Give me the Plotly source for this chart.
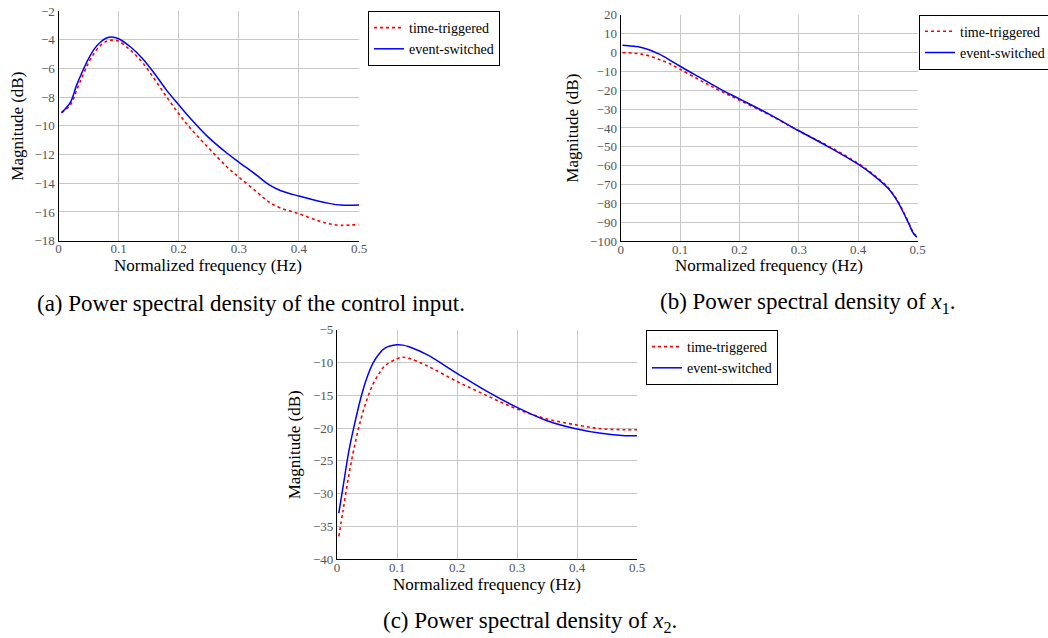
import plotly.graph_objects as go

# ---------------- data ----------------
# (a) control input PSD
freq_a = [0.005, 0.02, 0.03, 0.04, 0.05, 0.06, 0.07, 0.08, 0.088, 0.1, 0.12, 0.14, 0.16, 0.18,
          0.2, 0.22, 0.25, 0.28, 0.3, 0.33, 0.35, 0.37, 0.4, 0.43, 0.45, 0.47, 0.5]
tt_a = [-9.1, -8.53, -7.53, -6.53, -5.6, -4.9, -4.39, -4.11, -4.03, -4.11, -4.74, -5.6, -6.76, -7.99,
        -9.15, -10.2, -11.55, -12.85, -13.57, -14.61, -15.3, -15.73, -16.12, -16.58, -16.82, -16.93, -16.86]
es_a = [-9.08, -8.34, -7.18, -6.2, -5.32, -4.62, -4.16, -3.88, -3.81, -3.93, -4.51, -5.32, -6.37, -7.53,
        -8.53, -9.5, -10.82, -11.89, -12.52, -13.45, -14.1, -14.52, -14.89, -15.21, -15.4, -15.52, -15.52]

# (b) x1 PSD
freq_b = [0.003, 0.02, 0.035, 0.05, 0.065, 0.08, 0.1, 0.13, 0.15, 0.17, 0.2, 0.25, 0.3, 0.35, 0.4,
          0.425, 0.45, 0.465, 0.475, 0.485, 0.493, 0.499]
tt_b = [-0.1, -0.3, -0.9, -2.0, -3.8, -5.6, -8.9, -14.1, -17.5, -20.7, -25.3, -33.0, -41.5, -49.6,
        -58.8, -64.5, -71.4, -77.8, -83.6, -90.1, -95.5, -97.6]
es_b = [3.8, 3.3, 2.6, 1.2, -0.9, -3.5, -7.3, -12.7, -16.25, -19.8, -24.6, -32.7, -41.5, -50.0,
        -59.2, -64.9, -71.8, -78.2, -84.0, -90.5, -95.8, -97.9]

# (c) x2 PSD
freq_c = [0.003, 0.01, 0.02, 0.03, 0.04, 0.05, 0.06, 0.07, 0.08, 0.1, 0.11, 0.12, 0.15, 0.2, 0.25,
          0.3, 0.35, 0.4, 0.44, 0.48, 0.5]
tt_c = [-36.5, -32.6, -27.0, -22.4, -18.6, -15.6, -13.3, -11.7, -10.5, -9.42, -9.2, -9.37, -10.5,
        -12.9, -15.06, -17.09, -18.6, -19.53, -20.1, -20.25, -20.25]
es_c = [-32.95, -29.0, -23.4, -19.1, -15.3, -12.3, -10.1, -8.7, -7.8, -7.3, -7.35, -7.6, -8.8,
        -11.65, -14.4, -16.84, -18.87, -20.14, -20.8, -21.15, -21.15]

series_names = ["time-triggered", "event-switched"]
x_ticks = [0, 0.1, 0.2, 0.3, 0.4, 0.5]
x_tick_text = ["0", "0.1", "0.2", "0.3", "0.4", "0.5"]

captions = ["(a) Power spectral density of the control input.",
            "(b) Power spectral density of <i>x</i><sub>1</sub>.",
            "(c) Power spectral density of <i>x</i><sub>2</sub>."]
x_title = "Normalized frequency (Hz)"
y_title = "Magnitude (dB)"

# ---------------- layout helpers ----------------
W, H = 1048, 638
FONT = "Liberation Serif"


def fx(p):
    return p / W


def fy(p):
    return 1 - p / H


fig = go.Figure()

panels = [
    # freq, tt, es, xaxis id, yaxis id, legend id
    (freq_a, tt_a, es_a, "x", "y", "legend"),
    (freq_b, tt_b, es_b, "x2", "y2", "legend2"),
    (freq_c, tt_c, es_c, "x3", "y3", "legend3"),
]

for fr, tt, es, xa, ya, lg in panels:
    fig.add_trace(go.Scatter(x=fr, y=tt, mode="lines", name=series_names[0],
                             line=dict(color="#ff0000", width=1.6, dash="dot", shape="spline"),
                             xaxis=xa, yaxis=ya, legend=lg))
    fig.add_trace(go.Scatter(x=fr, y=es, mode="lines", name=series_names[1],
                             line=dict(color="#0000ff", width=1.5, shape="spline"),
                             xaxis=xa, yaxis=ya, legend=lg))

# plot area boxes (window pixels): left, right, top, bottom
boxes = [(58.5, 359.0, 11.0, 240.7),
         (620.7, 917.5, 14.7, 241.2),
         (337.0, 637.0, 329.7, 559.3)]
y_ranges = [(-18, -2, 2), (-100, 20, 10), (-40, -5, 5)]

axis_common = dict(showgrid=True, gridcolor="#c8c8c8", gridwidth=1,
                   showline=True, linecolor="#000000", linewidth=1.3,
                   ticks="", zeroline=False, automargin=False,
                   ticklabeloverflow="allow",
                   tickfont=dict(family=FONT, size=13, color="#555555"))

for i, ((l, r, t, b), (y0, y1, dy)) in enumerate(zip(boxes, y_ranges)):
    sfx = "" if i == 0 else str(i + 1)
    fig.update_layout(**{
        "xaxis" + sfx: dict(domain=[fx(l), fx(r)], range=[0, 0.5],
                            tickvals=x_ticks, ticktext=x_tick_text,
                            ticklabelstandoff=-4,
                            anchor="y" + sfx, mirror=False, **axis_common),
        "yaxis" + sfx: dict(domain=[fy(b), fy(t)], range=[y0, y1], dtick=dy, tick0=y0,
                            anchor="x" + sfx, **axis_common),
    })

legend_common = dict(bgcolor="white", bordercolor="black", borderwidth=1,
                     font=dict(family=FONT, size=14, color="black"),
                     xanchor="left", yanchor="top", itemwidth=30,
                     tracegroupgap=0)
fig.update_layout(
    legend=dict(x=fx(368), y=fy(11), **legend_common),
    legend2=dict(x=fx(919), y=fy(14.7), **legend_common),
    legend3=dict(x=fx(646), y=fy(330), **legend_common),
)

# axis titles and captions (window pixels)
ytitle_pos = [(16.7, 126), (572.7, 128), (294.3, 445)]
xtitle_pos = [(208, 265), (768.7, 265), (486.7, 584)]
caption_pos = [(251, 303), (807.5, 303), (530, 621.7)]

annotations = []
for (yx, yy), (xx, xy), (cx, cy), cap in zip(ytitle_pos, xtitle_pos, caption_pos, captions):
    annotations.append(dict(text=y_title, x=fx(yx), y=fy(yy), xref="paper", yref="paper",
                            textangle=-90, showarrow=False, xanchor="center", yanchor="middle",
                            font=dict(family=FONT, size=17, color="black")))
    annotations.append(dict(text=x_title, x=fx(xx), y=fy(xy), xref="paper", yref="paper",
                            showarrow=False, xanchor="center", yanchor="middle",
                            font=dict(family=FONT, size=17, color="black")))
    annotations.append(dict(text=cap, x=fx(cx), y=fy(cy), xref="paper", yref="paper",
                            showarrow=False, xanchor="center", yanchor="middle",
                            font=dict(family=FONT, size=23, color="black")))

fig.update_layout(
    width=W, height=H,
    margin=dict(l=0, r=0, t=0, b=0, pad=0, autoexpand=False),
    paper_bgcolor="white", plot_bgcolor="white",
    annotations=annotations,
    showlegend=True,
)

# remove the default 8px page margin so the figure fills the window exactly
fig.write_html("out.html", config={"displayModeBar": False},
               post_script="document.body.style.margin='0px';")
